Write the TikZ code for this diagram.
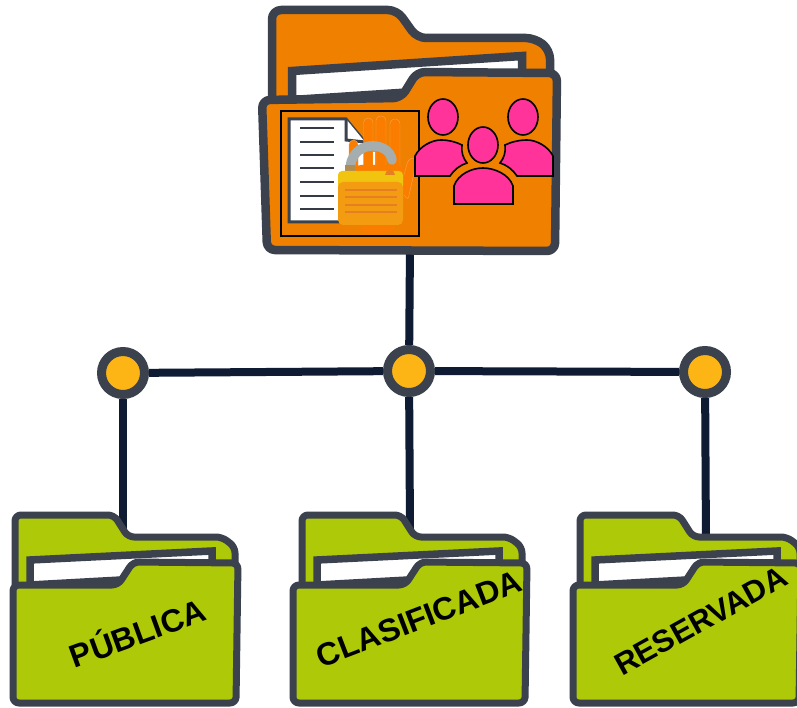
\documentclass[tikz,border=0pt]{standalone}
\usepackage{fontspec}
\setmainfont{Liberation Sans}
\definecolor{stroke}{HTML}{3B414D}
\definecolor{wire}{HTML}{0F1A33}
\definecolor{orangef}{HTML}{F08000}
\definecolor{greenf}{HTML}{AEC907}
\definecolor{yel}{HTML}{FDB515}
\definecolor{pinkp}{HTML}{FF3399}
\definecolor{handc}{HTML}{FB7D00}
\definecolor{lockbody}{HTML}{F39C12}
\definecolor{locktop}{HTML}{F1C40F}
\definecolor{lockline}{HTML}{E67E22}
\definecolor{shackle}{HTML}{A6ADAE}
\tikzset{
  wireline/.style={draw=wire,line width=8pt},
  junction/.style={circle,draw=stroke,fill=yel,line width=9pt,minimum size=43pt,inner sep=0pt},
  folderline/.style={draw=stroke,line width=7pt,line join=round,rounded corners=6pt},
  paperline/.style={draw=stroke,line width=7.5pt,line join=miter,fill=white},
  person/.style={draw=black,line width=1.6pt,fill=pinkp},
  foldertext/.style={font=\fontsize{32}{32}\selectfont\bfseries,text=black,inner sep=0pt},
  doclines/.style={draw=stroke!90!black,line width=2pt},
  finger/.style={fill=handc,draw=handc!70!white,line width=.4pt,rounded corners=4.5pt}
}
\newcommand{\greenfolder}[3]{%
  \path[folderline,fill=greenf] ({#1},590) -- ({#1},515) -- ({#1+99},515)
     -- ({#1+113},537) -- ({#1+207},537) -- ({#1+220},547) -- ({#1+220},590) -- cycle;
  \path[paperline] ({#1+15},560) -- ({#1+197},551) -- ({#1+197},575) -- ({#1+15},585) -- cycle;
  \path[folderline,fill=greenf] ({#2},585) -- ({#1+103},585)
     -- ({#1+118},562) -- ({#3},563) -- ({#3-2},703) -- ({#2},703) -- cycle;
}
\begin{document}
\begin{tikzpicture}[x=1pt,y=-1pt]
\useasboundingbox (0,0) rectangle (797,708);
\fill[white] (0,0) rectangle (797,708);

% junctions and anchors
\coordinate (rootfolder) at (410,245);
\coordinate (pubtop) at (123,530);
\coordinate (clatop) at (410,530);
\coordinate (restop) at (706,545);
\node[junction] (ja) at (123,373) {};
\node[junction] (jb) at (409,371) {};
\node[junction] (jc) at (705,372) {};

\draw[wireline] (rootfolder) -- (jb);
\draw[wireline] (ja) -- (jb);
\draw[wireline] (jb) -- (jc);
\draw[wireline] (ja) -- (pubtop);
\draw[wireline] (jb) -- (clatop);
\draw[wireline] (jc) -- (restop);

% top folder
\path[folderline,rounded corners=9pt,line width=8.5pt,fill=orangef] (272,105) -- (272,10) -- (397,10)
   -- (417,38) -- (535,38) -- (550,50) -- (550,105) -- cycle;
\path[paperline,line width=8.5pt] (292,71) -- (522,56) -- (522,85) -- (292,100) -- cycle;
\path[folderline,rounded corners=8pt,line width=8.5pt,fill=orangef] (262,100) -- (401,98)
   -- (417,72) -- (557,73) -- (555,251) -- (267,250) -- cycle;

% document
\draw[draw=black,line width=1.5pt] (281,111) rectangle (419,236);
\path[draw=stroke,line width=3pt,fill=white] (289,119) -- (346,119) -- (365,142) -- (365,222) -- (289,222) -- cycle;
\path[draw=stroke,line width=3pt,fill=white] (346,119) -- (346,140) -- (365,142);
\foreach \yy in {128,142,155,168,182,196,209}{\draw[doclines] (300,\yy) -- (334,\yy);}

% hand
\path[finger] (349,140) rectangle (358,178);
\path[finger] (363.5,118) rectangle (373,178);
\path[finger] (376,116) rectangle (386,178);
\path[finger] (390,119) rectangle (400,178);
\path[fill=white] (361,153) rectangle (363,166) (373,152) rectangle (375,166);
\path[finger,rounded corners=3pt] (400,190) -- (408,160) -- (414,157) -- (416,164) -- (408,200) -- cycle;
\path[finger,draw=none,rounded corners=7pt] (354,165) -- (404,165) -- (404,210) -- (392,233) -- (362,233) -- (354,215) -- cycle;

% lock
\path[draw=shackle,line width=9.5pt,line cap=round] (350,172) .. controls (349,139) and (389,140) .. (392,160);
\path[fill=lockbody!50!shackle!85!black] (345,165) rectangle (355,177);
\path[fill=locktop,rounded corners=4pt] (338,171) rectangle (403,190);
\path[fill=lockbody,rounded corners=5pt] (338,182) rectangle (403,225);
\path[fill=lockline] (385,175) arc[start angle=180,end angle=360,radius=5] -- cycle;
\foreach \yy in {190,197,205,212}{\fill[lockline] (345,\yy-1.4) rectangle (397,\yy+1.4);}

% people
\path[person] (415,176) -- (415,156) .. controls (420,146) and (432,140) .. (441,140)
   .. controls (449,140) and (456,142) .. (462,145)
   .. controls (461,152) and (463,158) .. (467,163)
   .. controls (460,165) and (454,170) .. (450,176) -- cycle;
\path[person] (553,176) -- (553,156) .. controls (548,146) and (536,140) .. (527,140)
   .. controls (519,140) and (511,142) .. (505,145)
   .. controls (506,152) and (504,158) .. (500,163)
   .. controls (507,165) and (513,170) .. (517,176) -- cycle;
\path[person] (454,204) -- (454,186) .. controls (458,174) and (472,168) .. (483,168)
   .. controls (494,168) and (509,174) .. (513,186) -- (513,204) -- cycle;
\path[person] (443,117) ellipse [x radius=15,y radius=18];
\path[person] (523,117) ellipse [x radius=15,y radius=18];
\path[person] (483,145) ellipse [x radius=15,y radius=18];

% lower folders
\greenfolder{15}{13}{238}
\greenfolder{302}{293}{527}
\greenfolder{580}{573}{801}

\node[foldertext,rotate=20] (pub) at (137,631) {PÚBLICA};
\node[foldertext,rotate=21] (cla) at (419,619) {CLASIFICADA};
\node[foldertext,rotate=29,font=\fontsize{31}{31}\selectfont\bfseries] (res) at (701,621) {RESERVADA};
\end{tikzpicture}
\end{document}
